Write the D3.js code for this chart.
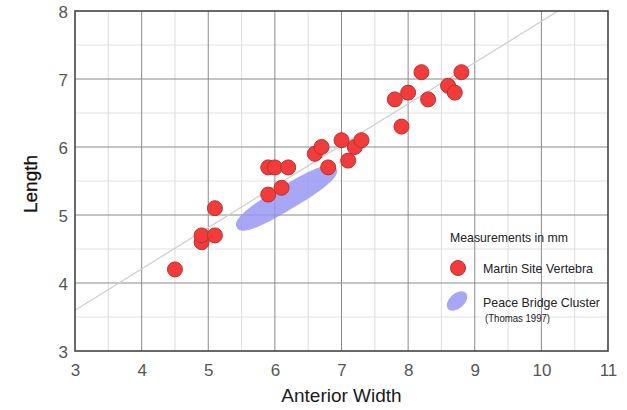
<!DOCTYPE html>
<html><head><meta charset="utf-8">
<script src="https://cdn.jsdelivr.net/npm/d3@7"></script>
<style>body{margin:0;background:#fff}svg{display:block}</style>
</head><body>
<svg id="c" width="627" height="410"></svg>
<script>
const widths  = [4.5,4.9,4.9,5.1,5.1,5.9,6.1,5.9,6.0,6.2,6.6,6.7,6.8,7.0,7.1,7.2,7.3,7.8,7.9,8.0,8.2,8.3,8.6,8.7,8.8];
const lengths = [4.2,4.6,4.7,4.7,5.1,5.3,5.4,5.7,5.7,5.7,5.9,6.0,5.7,6.1,5.8,6.0,6.1,6.7,6.3,6.8,7.1,6.7,6.9,6.8,7.1];
const xTicks = [3,4,5,6,7,8,9,10,11];
const yTicks = [3,4,5,6,7,8];
const trendLine = [[3,3.6],[10.25,8]];
const clusterEnds = [[5.43,4.815],[6.92,5.69]];
const legendTitle = "Measurements in mm";
const legendItems = ["Martin Site Vertebra","Peace Bridge Cluster"];
const legendNote = "(Thomas 1997)";

const svg = d3.select("#c");
const L=75,R=608,T=11,B=351;
const x = d3.scaleLinear().domain([3,11]).range([L,R]);
const y = d3.scaleLinear().domain([3,8]).range([B,T]);

// minor grid
const minorX = d3.range(3.5,11,1), minorY = d3.range(3.5,8,1);
svg.append("g").selectAll("line").data(minorX).join("line")
  .attr("x1",d=>x(d)).attr("x2",d=>x(d)).attr("y1",T).attr("y2",B)
  .attr("stroke","#e2e2e2").attr("stroke-width",1.2);
svg.append("g").selectAll("line").data(minorY).join("line")
  .attr("y1",d=>y(d)).attr("y2",d=>y(d)).attr("x1",L).attr("x2",R)
  .attr("stroke","#e2e2e2").attr("stroke-width",1.2);
// major grid
svg.append("g").selectAll("line").data(xTicks.slice(1,-1)).join("line")
  .attr("x1",d=>x(d)).attr("x2",d=>x(d)).attr("y1",T).attr("y2",B)
  .attr("stroke","#8a8a8a").attr("stroke-width",1);
svg.append("g").selectAll("line").data(yTicks.slice(1,-1)).join("line")
  .attr("y1",d=>y(d)).attr("y2",d=>y(d)).attr("x1",L).attr("x2",R)
  .attr("stroke","#8a8a8a").attr("stroke-width",1);

// cluster (rounded superellipse outline)
const p1=[x(clusterEnds[0][0]),y(clusterEnds[0][1])], p2=[x(clusterEnds[1][0]),y(clusterEnds[1][1])];
const cx=(p1[0]+p2[0])/2, cy=(p1[1]+p2[1])/2;
const ang=Math.atan2(p2[1]-p1[1],p2[0]-p1[0])*180/Math.PI;
const a=Math.hypot(p2[0]-p1[0],p2[1]-p1[1])/2, b=12, n=2.6;
const sg=v=>Math.sign(v)*Math.pow(Math.abs(v),2/n);
const outline=d3.range(0,2*Math.PI,Math.PI/90).map(t=>[a*sg(Math.cos(t)), b*sg(Math.sin(t))]);
svg.append("path").attr("d",d3.line().curve(d3.curveLinearClosed)(outline))
  .attr("transform",`translate(${cx},${cy}) rotate(${ang})`)
  .attr("fill","#9494f3").attr("opacity",0.82);

// trend line
svg.append("line").attr("x1",x(trendLine[0][0])).attr("y1",y(trendLine[0][1]))
  .attr("x2",x(trendLine[1][0])).attr("y2",y(trendLine[1][1]))
  .attr("stroke","#cfcfcf").attr("stroke-width",1.3);

// border
svg.append("rect").attr("x",L).attr("y",T).attr("width",R-L).attr("height",B-T)
  .attr("fill","none").attr("stroke","#444").attr("stroke-width",1.6);

// points
svg.append("g").selectAll("circle").data(widths.map((w,i)=>[w,lengths[i]])).join("circle")
  .attr("cx",d=>x(d[0])).attr("cy",d=>y(d[1])).attr("r",7.5)
  .attr("fill","#f23c3c").attr("stroke","#b83030").attr("stroke-width",1);

// axes (labels only)
const xa = d3.axisBottom(x).tickValues(xTicks).tickSize(0).tickPadding(0).tickFormat(d3.format("d"));
const ya = d3.axisLeft(y).tickValues(yTicks).tickSize(0).tickPadding(0).tickFormat(d3.format("d"));
const gx = svg.append("g").attr("transform",`translate(0,${B})`).call(xa);
const gy = svg.append("g").attr("transform",`translate(${L},0)`).call(ya);
[gx,gy].forEach(g=>{g.select(".domain").remove();
  g.selectAll("text").attr("font-family","Liberation Sans, Arial, sans-serif").attr("font-size",17).attr("fill","#555");});
gx.selectAll("text").attr("dy",null).attr("y",25);
gy.selectAll("text").attr("x",-7).attr("dy","0.36em");

svg.append("text").attr("x",x(7)).attr("y",402).attr("text-anchor","middle")
  .attr("font-family","Liberation Sans, Arial, sans-serif").attr("font-size",19).attr("fill","#1a1a1a")
  .text("Anterior Width");
svg.append("text").attr("transform","translate(37,184) rotate(-90)").attr("text-anchor","middle")
  .attr("font-family","Liberation Sans, Arial, sans-serif").attr("font-size",19).attr("fill","#111")
  .attr("stroke","#111").attr("stroke-width",0.3)
  .text("Length");

// legend
const lf="Liberation Sans, Arial, sans-serif";
function ltxt(t,xp,yp,fs,w){
  svg.append("text").attr("x",xp).attr("y",yp).attr("font-family",lf).attr("font-size",fs)
    .attr("fill","#222").attr("textLength",w).attr("lengthAdjust","spacingAndGlyphs").text(t);
}
ltxt(legendTitle,450,242,13,118);
svg.append("circle").attr("cx",458).attr("cy",268).attr("r",7.5).attr("fill","#f23c3c").attr("stroke","#b83030");
svg.append("ellipse").attr("cx",457).attr("cy",301).attr("rx",12).attr("ry",7.5)
  .attr("transform","rotate(-42,457,301)").attr("fill","#9494f3").attr("opacity",0.82);
ltxt(legendItems[0],483,273,13,110);
ltxt(legendItems[1],483,307,13,117);
ltxt(legendNote,485,322,10,65);
</script>
</body></html>
